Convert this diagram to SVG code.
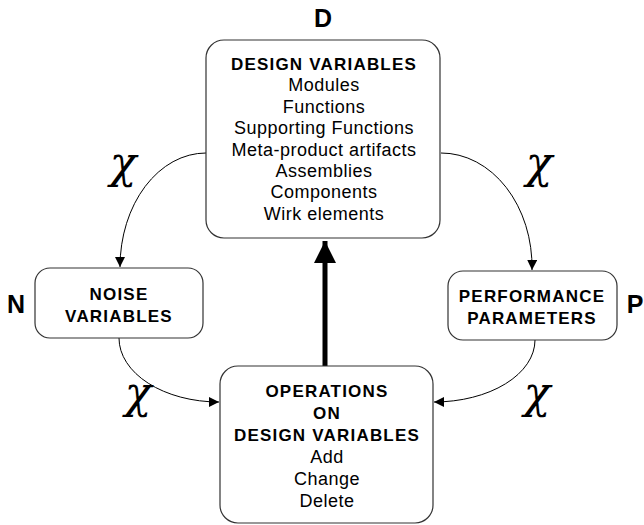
<svg xmlns="http://www.w3.org/2000/svg" width="644" height="525" viewBox="0 0 644 525">
<defs>
<marker id="ah" markerWidth="10" markerHeight="10" refX="10" refY="5" orient="auto" markerUnits="userSpaceOnUse"><path d="M0,0 L10,5 L0,10 Z" fill="#000"/></marker>
<marker id="big" markerWidth="22" markerHeight="22" refX="22" refY="11" orient="auto" markerUnits="userSpaceOnUse"><path d="M0,0 L22,11 L0,22 Z" fill="#000"/></marker>
</defs>
<style>
.box{fill:#fff;stroke:#333;stroke-width:1.2}
.b{font-family:'Liberation Sans',Arial,sans-serif;font-weight:bold;font-size:17px;letter-spacing:1.2px;text-anchor:middle;fill:#000}
.r{font-family:'Liberation Sans',Arial,sans-serif;font-size:18px;letter-spacing:0.5px;text-anchor:middle;fill:#000}
.lbl{font-family:'Liberation Sans',Arial,sans-serif;font-weight:bold;font-size:25px;text-anchor:middle;fill:#000}
.chi{font-family:'DejaVu Serif',serif;font-style:italic;font-size:44px;text-anchor:middle;fill:#000}
.c{fill:none;stroke:#000;stroke-width:1}
</style>
<rect width="644" height="525" fill="#fff"/>
<g id="connectors">
<path class="c" d="M206,153 A86,114 0 0 0 120,267" marker-end="url(#ah)"/>
<path class="c" d="M441,153 A91,114 0 0 1 532,270" marker-end="url(#ah)"/>
<path class="c" d="M119,338 A100,64 0 0 0 219,402" marker-end="url(#ah)"/>
<path class="c" d="M535,340 A101,62 0 0 1 434,402" marker-end="url(#ah)"/>
<line x1="325" y1="366" x2="325" y2="241" stroke="#000" stroke-width="5" marker-end="url(#big)"/>
</g>
<g id="design">
<rect class="box" x="206" y="40" width="234" height="198" rx="18"/>
<text class="b" x="324" y="70">DESIGN VARIABLES</text>
<text class="r" x="324" y="91.4">Modules</text>
<text class="r" x="324" y="112.8">Functions</text>
<text class="r" x="324" y="134.2">Supporting Functions</text>
<text class="r" x="324" y="155.6">Meta-product artifacts</text>
<text class="r" x="324" y="177">Assemblies</text>
<text class="r" x="324" y="198.4">Components</text>
<text class="r" x="324" y="219.8">Wirk elements</text>
</g>
<g id="noise">
<rect class="box" x="35" y="268" width="168" height="70" rx="15"/>
<text class="b" x="119" y="300">NOISE</text>
<text class="b" x="119" y="322">VARIABLES</text>
</g>
<g id="performance">
<rect class="box" x="448" y="271" width="169" height="69" rx="15"/>
<text class="b" x="532" y="302">PERFORMANCE</text>
<text class="b" x="532" y="324">PARAMETERS</text>
</g>
<g id="operations">
<rect class="box" x="220" y="366" width="213" height="157" rx="18"/>
<text class="b" x="327" y="397">OPERATIONS</text>
<text class="b" x="327" y="419">ON</text>
<text class="b" x="327" y="441">DESIGN VARIABLES</text>
<text class="r" x="327" y="463">Add</text>
<text class="r" x="327" y="485">Change</text>
<text class="r" x="327" y="507">Delete</text>
</g>
<g id="labels">
<text class="lbl" x="323" y="27">D</text>
<text class="lbl" x="16" y="313">N</text>
<text class="lbl" x="635" y="313">P</text>
<text class="chi" x="123" y="178">χ</text>
<text class="chi" x="539" y="178">χ</text>
<text class="chi" x="138" y="408">χ</text>
<text class="chi" x="537" y="408">χ</text>
</g>
</svg>
